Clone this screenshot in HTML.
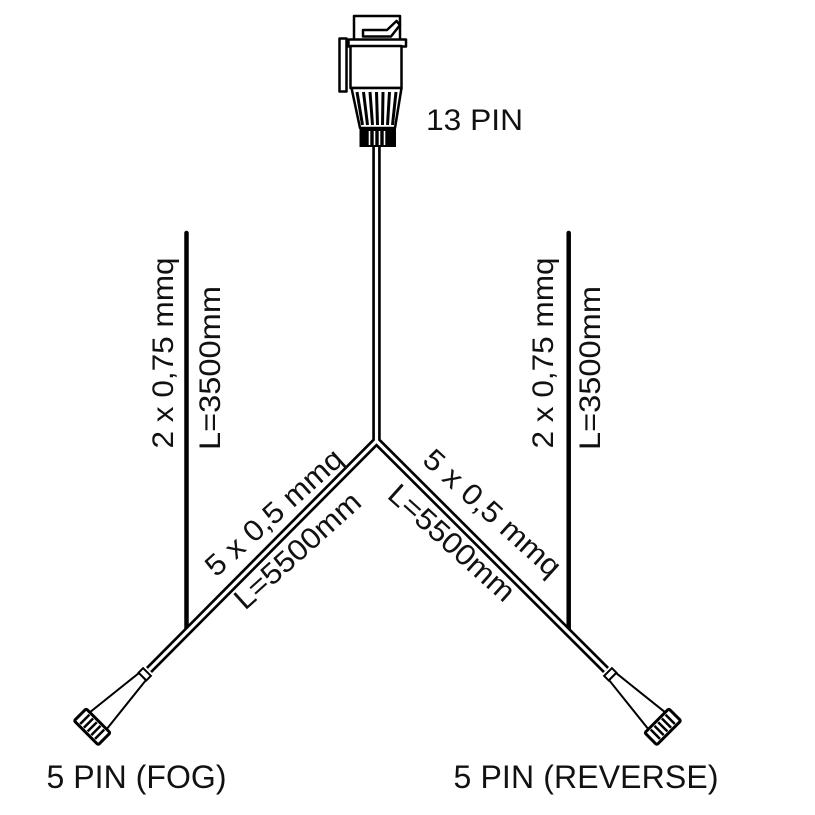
<!DOCTYPE html>
<html>
<head>
<meta charset="utf-8">
<style>
  html,body{margin:0;padding:0;background:#fff;}
  svg{display:block;}
  text{font-family:"Liberation Sans",Arial,sans-serif;fill:#111;}
</style>
</head>
<body>
<svg width="815" height="815" viewBox="0 0 815 815" xmlns="http://www.w3.org/2000/svg">
  <rect x="0" y="0" width="815" height="815" fill="#fff"/>

  <!-- 2x0.75 vertical cables -->
  <line x1="186.5" y1="233" x2="186.5" y2="632" stroke="#000" stroke-width="4.5" stroke-linecap="round"/>
  <line x1="568.7" y1="233" x2="568.7" y2="633" stroke="#000" stroke-width="4.5" stroke-linecap="round"/>

  <!-- main double-line cable -->
  <path d="M149,670 L376.5,441 L376.5,146 M606,670 L376.5,441" fill="none" stroke="#000" stroke-width="8.5" stroke-linejoin="round"/>
  <path d="M149,670 L376.5,441 L376.5,146 M606,670 L376.5,441" fill="none" stroke="#fff" stroke-width="3.2" stroke-linejoin="round"/>

  <!-- 13 pin connector -->
  <g stroke="#000" stroke-width="2.5" fill="#fff" stroke-linejoin="round">
    <rect x="339.5" y="38.5" width="7" height="53"/>
    <rect x="354" y="16" width="46" height="24"/>
    <polygon points="363,30 387,30 396.5,21 400,25 391,36.5 363,36.5"/>
    <rect x="348.5" y="39.5" width="57.5" height="7"/>
    <rect x="350.5" y="46" width="51" height="42"/>
    <polygon points="351.5,88 401.5,88 395,128 360,128"/>
  </g>
  <g stroke="#000" stroke-width="3">
    <line x1="357" y1="92" x2="362.5" y2="125"/>
    <line x1="363.5" y1="92" x2="367.5" y2="125"/>
    <line x1="370" y1="92" x2="372.5" y2="125"/>
    <line x1="376.5" y1="92" x2="377.5" y2="125"/>
    <line x1="383" y1="92" x2="382.5" y2="125"/>
    <line x1="389.5" y1="92" x2="387.5" y2="125"/>
    <line x1="396" y1="92" x2="392.5" y2="125"/>
  </g>
  <rect x="359.5" y="128" width="36.5" height="19" fill="#000"/>
  <g stroke="#fff" stroke-width="1.6">
    <line x1="369.5" y1="131" x2="369.5" y2="145"/>
    <line x1="374.5" y1="131" x2="374.5" y2="145"/>
    <line x1="379.5" y1="131" x2="379.5" y2="145"/>
    <line x1="384.5" y1="131" x2="384.5" y2="145"/>
  </g>

  <!-- 5 pin connector left -->
  <g transform="translate(147,672) rotate(135)">
    <rect x="0" y="-5.5" width="6.5" height="11" fill="#fff" stroke="#000" stroke-width="2"/>
    <polygon points="6.5,-5 70,-12 70,12 6.5,5" fill="#fff" stroke="#000" stroke-width="2"/>
    <rect x="69" y="-17" width="17" height="34" rx="1.5" fill="#fff" stroke="#000" stroke-width="3"/>
    <g stroke="#000" stroke-width="2.5">
      <line x1="71" y1="-10.5" x2="84" y2="-10.5"/>
      <line x1="71" y1="-5.25" x2="84" y2="-5.25"/>
      <line x1="71" y1="0" x2="84" y2="0"/>
      <line x1="71" y1="5.25" x2="84" y2="5.25"/>
      <line x1="71" y1="10.5" x2="84" y2="10.5"/>
    </g>
  </g>

  <!-- 5 pin connector right -->
  <g transform="translate(608,672) rotate(45)">
    <rect x="0" y="-5.5" width="6.5" height="11" fill="#fff" stroke="#000" stroke-width="2"/>
    <polygon points="6.5,-5 70,-12 70,12 6.5,5" fill="#fff" stroke="#000" stroke-width="2"/>
    <rect x="69" y="-17" width="17" height="34" rx="1.5" fill="#fff" stroke="#000" stroke-width="3"/>
    <g stroke="#000" stroke-width="2.5">
      <line x1="71" y1="-10.5" x2="84" y2="-10.5"/>
      <line x1="71" y1="-5.25" x2="84" y2="-5.25"/>
      <line x1="71" y1="0" x2="84" y2="0"/>
      <line x1="71" y1="5.25" x2="84" y2="5.25"/>
      <line x1="71" y1="10.5" x2="84" y2="10.5"/>
    </g>
  </g>

  <!-- labels -->
  <text x="426" y="130" font-size="30" textLength="97" lengthAdjust="spacingAndGlyphs">13 PIN</text>
  <text x="46.5" y="788" font-size="32" textLength="180" lengthAdjust="spacing">5 PIN (FOG)</text>
  <text x="453.5" y="788" font-size="32" textLength="265" lengthAdjust="spacing">5 PIN (REVERSE)</text>

  <!-- vertical labels -->
  <text transform="translate(173,448.5) rotate(-90)" font-size="29.5" textLength="191" lengthAdjust="spacingAndGlyphs">2 x 0,75 mmq</text>
  <text transform="translate(220,450) rotate(-90)" font-size="29.5" textLength="164" lengthAdjust="spacingAndGlyphs">L=3500mm</text>
  <text transform="translate(553,448.5) rotate(-90)" font-size="29.5" textLength="191" lengthAdjust="spacingAndGlyphs">2 x 0,75 mmq</text>
  <text transform="translate(600,450) rotate(-90)" font-size="29.5" textLength="164" lengthAdjust="spacingAndGlyphs">L=3500mm</text>

  <!-- diagonal labels -->
  <text transform="translate(216,578) rotate(-42)" font-size="29.5" textLength="174" lengthAdjust="spacingAndGlyphs">5 x 0,5 mmq</text>
  <text transform="translate(245,611) rotate(-42)" font-size="29.5" textLength="159" lengthAdjust="spacingAndGlyphs">L=5500mm</text>
  <text transform="translate(421,462) rotate(42)" font-size="29.5" textLength="174" lengthAdjust="spacingAndGlyphs">5 x 0,5 mmq</text>
  <text transform="translate(386,497) rotate(42)" font-size="29.5" textLength="159" lengthAdjust="spacingAndGlyphs">L=5500mm</text>
</svg>
</body>
</html>
